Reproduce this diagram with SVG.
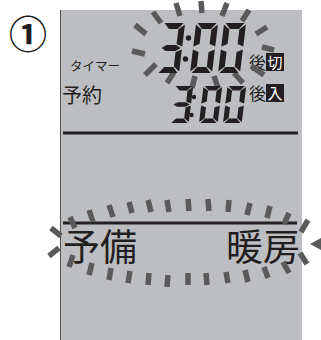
<svg xmlns="http://www.w3.org/2000/svg" xmlns:xlink="http://www.w3.org/1999/xlink" width="321" height="340" viewBox="0 0 321 340">
<style>
.ink{fill:#231f20}
.ray{stroke:#5a5a5a;stroke-width:5.5;stroke-linecap:butt;fill:none}
.rule{stroke:#231f20;stroke-width:3}
.jp{font-family:"Noto Sans CJK JP","Noto Sans CJK SC",sans-serif;fill:#231f20}
.wt{font-family:"Noto Sans CJK JP","Noto Sans CJK SC",sans-serif;fill:#ffffff}
</style>
<defs>
<polygon id="sa" points="1.5,-50 20.5,-50 15.5,-44 6.5,-44"/>
<polygon id="sb" points="22,-48.5 22,-26.5 16,-29 16,-43.5"/>
<polygon id="sc" points="22,-23.5 22,-1.5 16,-6.5 16,-21"/>
<polygon id="sd" points="1.5,0 20.5,0 15.5,-6 6.5,-6"/>
<polygon id="se" points="0,-23.5 6,-21 6,-6.5 0,-1.5"/>
<polygon id="sf" points="0,-48.5 6,-43.5 6,-29 0,-26.5"/>
<polygon id="sg" points="1.5,-25 6,-28 16,-28 20.5,-25 16,-22 6,-22"/>
<g id="d3"><use href="#sa"/><use href="#sb"/><use href="#sc"/><use href="#sd"/><use href="#sg"/></g>
<g id="d0"><use href="#sa"/><use href="#sb"/><use href="#sc"/><use href="#sd"/><use href="#se"/><use href="#sf"/></g>
</defs>
<g id="step-number"><text class="jp" x="9" y="48" font-size="38" font-weight="bold">①</text></g>
<g id="panel">
<rect x="60" y="10" width="242" height="330" fill="#bdbec1"/>
<line x1="60.5" y1="10" x2="60.5" y2="340" stroke="#4d4d4d" stroke-width="1"/>
</g>
<g id="connectors">
<line class="rule" x1="63" y1="133" x2="298" y2="133"/>
<line class="rule" x1="63" y1="223" x2="297" y2="223"/>
</g>
<g id="label-timer"><text class="jp" x="70" y="71" font-size="12.5">タイマー</text></g>
<g id="label-yoyaku"><text class="jp" x="62" y="103" font-size="20">予約</text></g>
<g id="label-off"><text class="jp" x="249" y="69" font-size="17">後</text><rect x="266" y="53" width="18" height="18" fill="#231f20"/><text class="wt" x="275" y="67.5" font-size="15" text-anchor="middle">切</text></g>
<g id="label-on"><text class="jp" x="249" y="100" font-size="17">後</text><rect x="266" y="84" width="18" height="18" fill="#231f20"/><text class="wt" x="275" y="98.5" font-size="15" text-anchor="middle">入</text></g>
<g id="label-yobi"><text class="jp" x="63" y="261" font-size="37">予備</text></g>
<g id="label-danbou"><text class="jp" x="300" y="261" font-size="37" text-anchor="end">暖房</text></g>
<g id="burst-top" class="ray">
<line x1="153" y1="12" x2="161" y2="23"/>
<line x1="176" y1="3" x2="180" y2="16"/>
<line x1="201" y1="1" x2="202" y2="13"/>
<line x1="227" y1="3" x2="222" y2="16"/>
<line x1="249" y1="10" x2="242" y2="21"/>
<line x1="267" y1="27" x2="256" y2="34"/>
<line x1="262" y1="47" x2="274" y2="50"/>
<line x1="135" y1="25" x2="146" y2="34"/>
<line x1="132" y1="51" x2="145" y2="54"/>
<line x1="145" y1="75" x2="156" y2="64"/>
<line x1="167" y1="83" x2="174" y2="72"/>
<line x1="195" y1="76" x2="192" y2="88"/>
<line x1="214" y1="76" x2="218" y2="88"/>
<line x1="234" y1="73" x2="243" y2="83"/>
<line x1="251" y1="66" x2="264" y2="75"/>
</g>
<g id="burst-bottom" class="ray">
<line x1="70" y1="217" x2="75" y2="228"/>
<line x1="89" y1="210" x2="93" y2="222"/>
<line x1="109" y1="205" x2="113" y2="217"/>
<line x1="129" y1="202" x2="132" y2="213"/>
<line x1="148" y1="200" x2="151" y2="212"/>
<line x1="167" y1="200" x2="169" y2="212"/>
<line x1="188" y1="199" x2="189" y2="211"/>
<line x1="208" y1="199" x2="209" y2="211"/>
<line x1="229" y1="200" x2="228" y2="212"/>
<line x1="250" y1="203" x2="247" y2="215"/>
<line x1="270" y1="206" x2="267" y2="218"/>
<line x1="289" y1="213" x2="284" y2="224"/>
<line x1="308" y1="220" x2="301" y2="232"/>
<line x1="51" y1="228" x2="61" y2="236"/>
<line x1="49" y1="256" x2="59" y2="248"/>
<line x1="73" y1="255" x2="69" y2="267"/>
<line x1="92" y1="263" x2="89" y2="275"/>
<line x1="111" y1="268" x2="109" y2="280"/>
<line x1="130" y1="271" x2="128" y2="283"/>
<line x1="149" y1="273" x2="148" y2="285"/>
<line x1="168" y1="275" x2="167" y2="287"/>
<line x1="188" y1="273" x2="188" y2="285"/>
<line x1="206" y1="273" x2="207" y2="285"/>
<line x1="226" y1="272" x2="228" y2="283"/>
<line x1="245" y1="270" x2="248" y2="282"/>
<line x1="264" y1="267" x2="268" y2="278"/>
<line x1="283" y1="262" x2="289" y2="273"/>
<line x1="300" y1="253" x2="307" y2="264"/>
<polygon points="310,244 321,238 321,250" fill="#5a5a5a" stroke="none"/>
</g>
<g id="time-off" class="ink">
<use href="#d3" transform="translate(157,73) skewX(-7)"/>
<use href="#d0" transform="translate(190,73) skewX(-7)"/>
<use href="#d0" transform="translate(218,73) skewX(-7)"/>
<circle cx="188.5" cy="38" r="2.7"/>
<circle cx="185.5" cy="59" r="2.7"/>
</g>
<g id="time-on" class="ink">
<use href="#d3" transform="translate(170,123) skewX(-7) scale(0.85,0.74)"/>
<use href="#d0" transform="translate(199,123) skewX(-7) scale(0.85,0.74)"/>
<use href="#d0" transform="translate(223,123) skewX(-7) scale(0.85,0.74)"/>
<circle cx="194" cy="97" r="2.2"/>
<circle cx="191.5" cy="115" r="2.2"/>
</g>
</svg>
